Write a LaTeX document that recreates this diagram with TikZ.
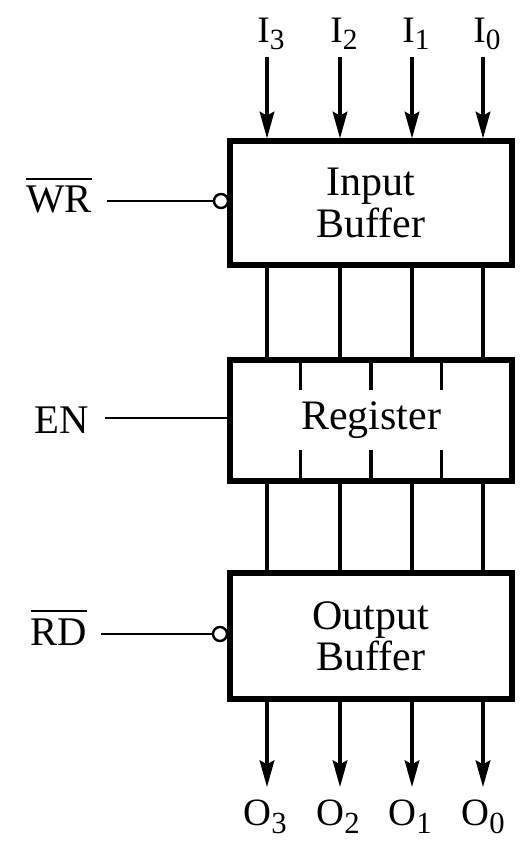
\documentclass[tikz,border=0pt]{standalone}
\usepackage{fontspec}
\setmainfont{Liberation Serif}
\usetikzlibrary{arrows.meta}
\newcommand\ovl[1]{\leavevmode\vbox{\hrule height 1.4pt\kern 5pt\hbox{#1}}}
\newcommand\sbsI[1]{\raisebox{-5pt}{\fontsize{22}{22}\selectfont #1}}
\newcommand\sbsO[1]{\raisebox{-6pt}{\fontsize{23}{23}\selectfont #1}}
\begin{document}
\begin{tikzpicture}[x=0.75pt,y=-0.75pt,
  box/.style={draw,line width=4pt,rectangle,minimum width=211.5pt,align=center,
    font=\fontsize{31.5}{31}\selectfont,inner sep=0pt},
  sig/.style={line width=2.3pt},
  ctl/.style={line width=1.8pt},
  arr/.style={sig,-{Stealth[length=20pt,width=11pt,inset=3pt]}},
  bub/.style={draw,circle,line width=1.8pt,minimum size=10.5pt,inner sep=0pt,fill=white},
  lbl/.style={font=\fontsize{30.5}{31}\selectfont,anchor=base,inner sep=0pt},
  ilbl/.style={font=\fontsize{28}{28}\selectfont,anchor=base,inner sep=0pt},
  olbl/.style={font=\fontsize{29}{30}\selectfont,anchor=base,inner sep=0pt}]
\useasboundingbox (0,0) rectangle (521,841);

% boxes
\node[box,minimum height=93pt] (ib) at (371,203) {Input\\Buffer};
\node[box,minimum height=90.75pt] (rg) at (371,420.5) {Register};
\node[box,minimum height=94.5pt] (ob) at (371,636) {Output\\Buffer};

% column coordinates
\coordinate (c3) at (267,57);
\coordinate (c2) at (340,57);
\coordinate (c1) at (412,57);
\coordinate (c0) at (483,57);

% input labels
\node[ilbl] (i3) at (271,43) {I\sbsI{3}};
\node[ilbl] (i2) at (344,43) {I\sbsI{2}};
\node[ilbl] (i1) at (416,43) {I\sbsI{1}};
\node[ilbl] (i0) at (487,43) {I\sbsI{0}};

% output labels
\coordinate (e3) at (267,787);
\coordinate (e2) at (340,787);
\coordinate (e1) at (412,787);
\coordinate (e0) at (483,787);
\node[olbl] (o3) at (265,825) {O\sbsO{3}};
\node[olbl] (o2) at (338,825) {O\sbsO{2}};
\node[olbl] (o1) at (410,825) {O\sbsO{1}};
\node[olbl] (o0) at (483,825) {O\sbsO{0}};

\foreach \c in {3,2,1,0}{
  \draw[arr] (c\c) -- (c\c |- ib.north);
  \draw[sig] (ib.south -| c\c) -- (rg.north -| c\c);
  \draw[sig] (rg.south -| c\c) -- (ob.north -| c\c);
  \draw[arr] (ob.south -| c\c) -- (e\c);
}

% register internal ticks
\coordinate (t1) at (300.5,0);
\coordinate (t2) at (371,0);
\coordinate (t3) at (441.5,0);
\foreach \t in {t1,t2,t3}{
  \draw[sig] (rg.north -| \t) -- ++(0,33);
  \draw[sig] (rg.south -| \t) -- ++(0,-34);
}

% control signals
\node[lbl] (wr) at (59,213) {\ovl{WR}};
\coordinate (wrs) at (107,201);
\node[bub] (wrb) at (221,201) {};
\draw[ctl] (wrs) -- (wrb.west);

\node[lbl] (en) at (62,433) {EN};
\coordinate (ens) at (105,418);
\draw[ctl] (ens) -- (ens -| rg.west);

\node[lbl] (rd) at (59,645) {\ovl{RD}};
\coordinate (rds) at (101,634);
\node[bub] (rdb) at (220,634) {};
\draw[ctl] (rds) -- (rdb.west);
\end{tikzpicture}
\end{document}
